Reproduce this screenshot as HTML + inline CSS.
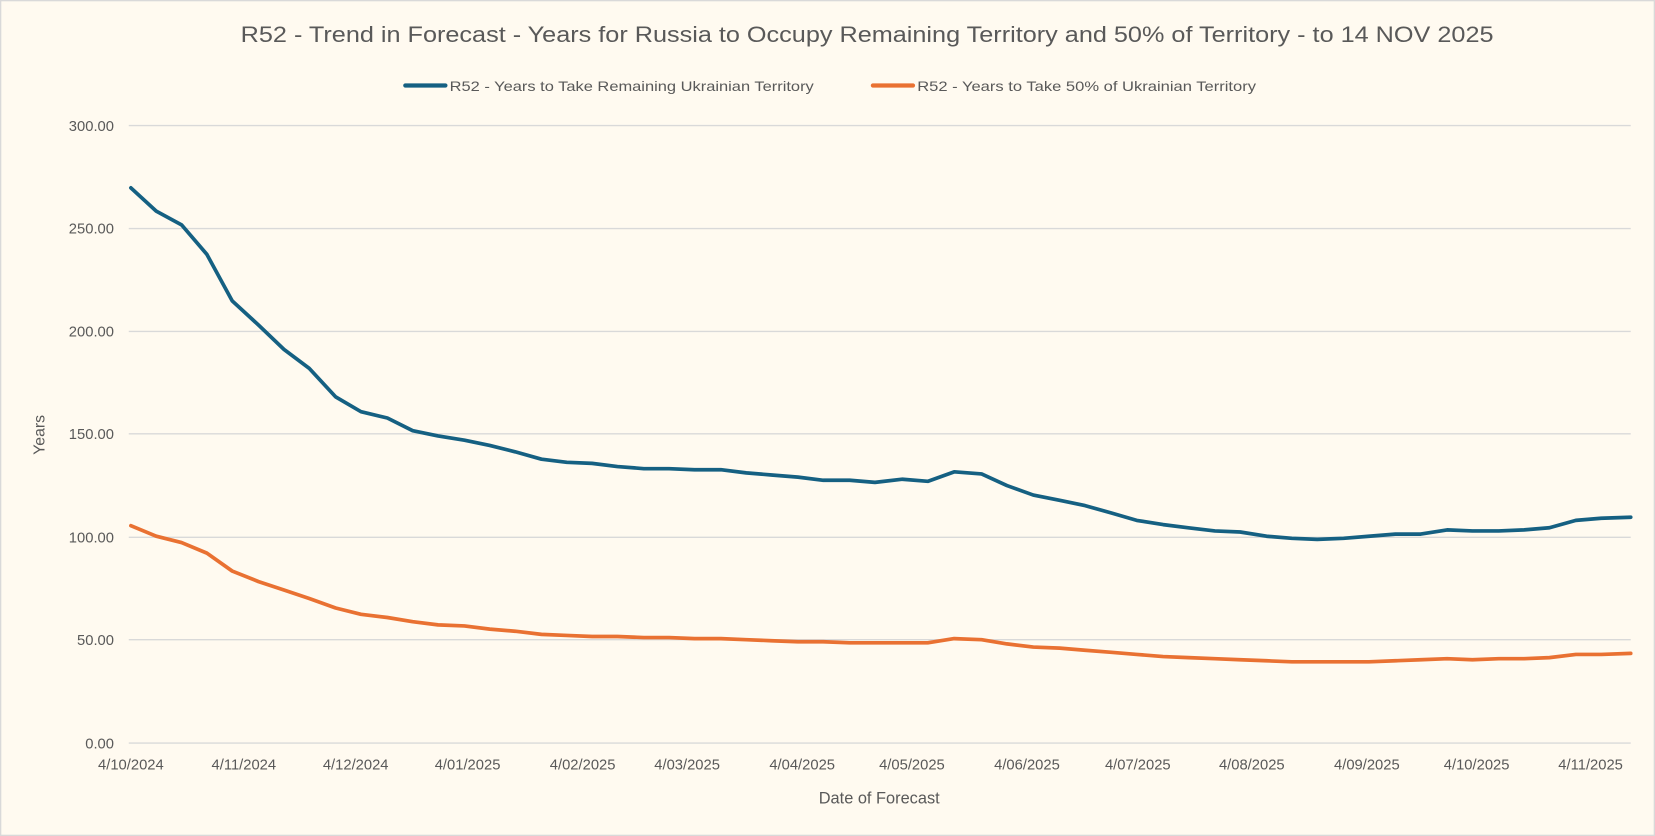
<!DOCTYPE html>
<html><head><meta charset="utf-8"><style>
html,body{margin:0;padding:0;background:#fffaf0;}
svg{display:block;font-family:"Liberation Sans",Arial,sans-serif;}
</style></head><body>
<svg width="1655" height="836" viewBox="0 0 1568 792" preserveAspectRatio="none" xmlns="http://www.w3.org/2000/svg">
<rect x="0.5" y="0.5" width="1567" height="791" fill="#fffaf0" stroke="#d9d9d9" stroke-width="1.5"/>
<text x="228" y="40" font-size="21" fill="#595959" textLength="1187" lengthAdjust="spacingAndGlyphs">R52 - Trend in Forecast - Years for Russia to Occupy Remaining Territory and 50% of Territory - to 14 NOV 2025</text>
<line x1="384" y1="81" x2="422" y2="81" stroke="#156082" stroke-width="4" stroke-linecap="round"/>
<text x="426" y="86" font-size="13.5" fill="#595959" textLength="345" lengthAdjust="spacingAndGlyphs">R52 - Years to Take Remaining Ukrainian Territory</text>
<line x1="827" y1="81" x2="865" y2="81" stroke="#e97132" stroke-width="4" stroke-linecap="round"/>
<text x="869" y="86" font-size="13.5" fill="#595959" textLength="321" lengthAdjust="spacingAndGlyphs">R52 - Years to Take  50% of Ukrainian Territory</text>
<g stroke="#d9d9d9" stroke-width="1.3">
<line x1="122" y1="119" x2="1545" y2="119"/><line x1="122" y1="216.5" x2="1545" y2="216.5"/>
<line x1="122" y1="314" x2="1545" y2="314"/><line x1="122" y1="411" x2="1545" y2="411"/>
<line x1="122" y1="509" x2="1545" y2="509"/><line x1="122" y1="606" x2="1545" y2="606"/>
<line x1="122" y1="704" x2="1545" y2="704"/>
</g>
<g font-size="14" fill="#595959" text-anchor="end">
<text x="108" y="124">300.00</text><text x="108" y="221">250.00</text><text x="108" y="319">200.00</text>
<text x="108" y="416">150.00</text><text x="108" y="514">100.00</text><text x="108" y="611">50.00</text><text x="108" y="709">0.00</text>
</g>
<g font-size="14" fill="#595959" text-anchor="middle">
<text x="124" y="729">4/10/2024</text><text x="231" y="729">4/11/2024</text><text x="337" y="729">4/12/2024</text>
<text x="443" y="729">4/01/2025</text><text x="552" y="729">4/02/2025</text><text x="651" y="729">4/03/2025</text>
<text x="760" y="729">4/04/2025</text><text x="864" y="729">4/05/2025</text><text x="973" y="729">4/06/2025</text>
<text x="1078" y="729">4/07/2025</text><text x="1186" y="729">4/08/2025</text><text x="1295" y="729">4/09/2025</text>
<text x="1399" y="729">4/10/2025</text><text x="1507" y="729">4/11/2025</text>
</g>
<text x="833" y="761" font-size="15.5" fill="#595959" text-anchor="middle">Date of Forecast</text>
<text transform="translate(42,412) rotate(-90)" font-size="15" fill="#595959" text-anchor="middle">Years</text>
<polyline fill="none" stroke="#156082" stroke-width="3.5" stroke-linejoin="round" stroke-linecap="round" points="124,178 148,200 172,213 196,241 220,285 245,308 269,331 293,349 318,376 342,390 367,396 391,408 415,413 440,417 464,422 488,428 513,435 537,438 561,439 585,442 610,444 634,444 658,445 683,445 707,448 731,450 756,452 780,455 805,455 829,457 855,454 879,456 904,447 930,449 954,460 979,469 1004,474 1028,479 1053,486 1077,493 1102,497 1126,500 1151,503 1175,504 1200,508 1224,510 1248,511 1273,510 1297,508 1322,506 1346,506 1371,502 1395,503 1420,503 1444,502 1468,500 1493,493 1517,491 1545,490"/>
<polyline fill="none" stroke="#e97132" stroke-width="3.5" stroke-linejoin="round" stroke-linecap="round" points="124,498 148,508 172,514 196,524 220,541 245,551 269,559 293,567 318,576 342,582 367,585 391,589 415,592 440,593 464,596 488,598 513,601 537,602 561,603 585,603 610,604 634,604 658,605 683,605 707,606 731,607 756,608 780,608 805,609 829,609 855,609 879,609 904,605 930,606 954,610 979,613 1004,614 1028,616 1053,618 1077,620 1102,622 1126,623 1151,624 1175,625 1200,626 1224,627 1248,627 1273,627 1297,627 1322,626 1346,625 1371,624 1395,625 1420,624 1444,624 1468,623 1493,620 1517,620 1545,619"/>
</svg>
</body></html>
